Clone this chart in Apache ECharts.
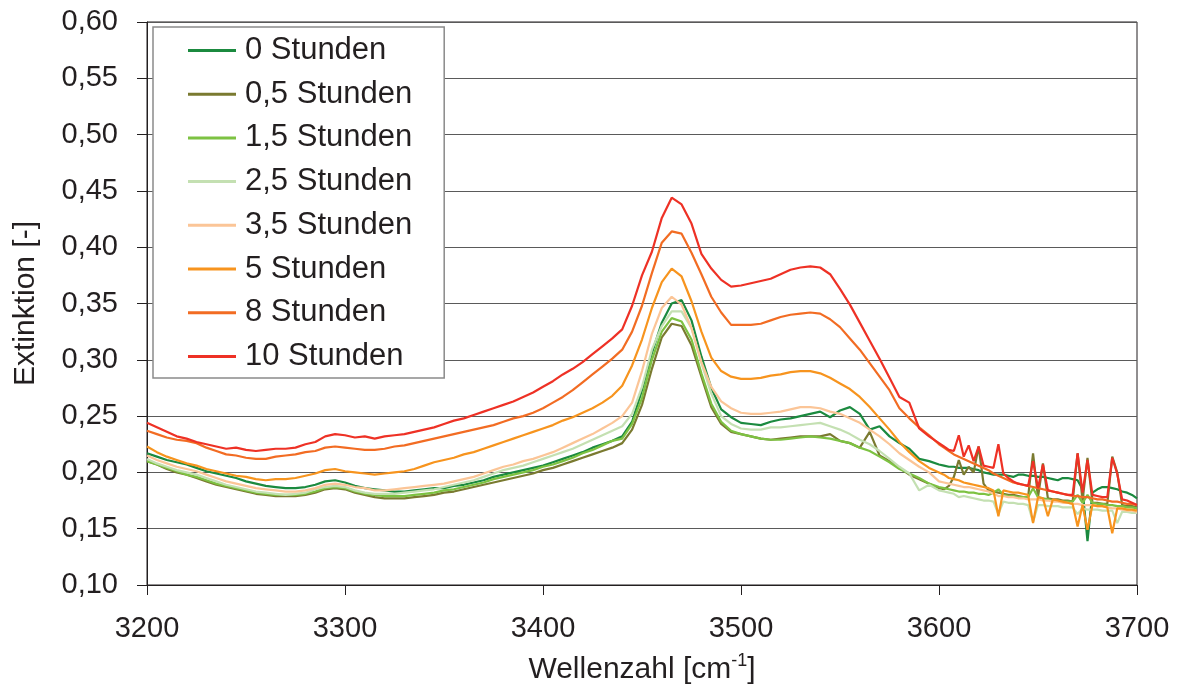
<!DOCTYPE html>
<html>
<head>
<meta charset="utf-8">
<script src="https://cdn.jsdelivr.net/npm/echarts@6/dist/echarts.min.js"></script>
<style>
  html, body { margin: 0; padding: 0; background: #ffffff; }
  #chart { width: 1180px; height: 692px; }
</style>
</head>
<body>
<div id="chart"></div>
<script>
// Wavenumbers [cm^-1]
const wavenumbers = [
  3200,3205,3210,3215,3220,3225,3230,3235,3240,3245,
  3250,3255,3260,3265,3270,3275,3280,3285,3290,3295,
  3300,3305,3310,3315,3320,3325,3330,3335,3340,3345,
  3350,3355,3360,3365,3370,3375,3380,3385,3390,3395,
  3400,3405,3410,3415,3420,3425,3430,3435,3440,3445,
  3450,3455,3460,3465,3470,3475,3480,3485,3490,3495,
  3500,3505,3510,3515,3520,3525,3530,3535,3540,3545,
  3550,3555,3560,3565,3570,3575,3580,3585,3590,3595,
  3600,3602.5,3605,3607.5,3610,3612.5,3615,3617.5,3620,3622.5,
  3625,3627.5,3630,3632.5,3635,3637.5,3640,3642.5,3645,3647.5,
  3650,3652.5,3655,3657.5,3660,3662.5,3665,3667.5,3670,3672.5,
  3675,3677.5,3680,3682.5,3685,3687.5,3690,3692.5,3695,3697.5,3700
];

const seriesNames = ['0 Stunden','0,5 Stunden','1,5 Stunden','2,5 Stunden','3,5 Stunden','5 Stunden','8 Stunden','10 Stunden'];

const h0 = [
  .217,.214,.211,.209,.207,.204,.201,.199,.197,.195,
  .192,.190,.188,.187,.186,.186,.187,.189,.192,.193,
  .191,.188,.186,.185,.184,.183,.183,.184,.185,.186,
  .186,.188,.189,.191,.193,.196,.198,.200,.202,.204,
  .206,.209,.212,.215,.218,.222,.225,.228,.232,.245,
  .273,.306,.333,.350,.353,.335,.303,.275,.256,.249,
  .244,.243,.242,.245,.247,.248,.250,.252,.254,.249,
  .255,.258,.252,.238,.241,.232,.226,.221,.212,.210,
  .207,.206,.205,.205,.204,.204,.204,.203,.202,.200,
  .199,.198,.198,.198,.197,.196,.198,.198,.197,.197,
  .196,.196,.195,.194,.193,.195,.195,.194,.193,.185,
  .139,.182,.185,.187,.187,.186,.185,.183,.182,.180,.177
];
const h05 = [
  .210,.207,.203,.200,.198,.195,.192,.189,.187,.185,
  .183,.181,.180,.179,.179,.179,.180,.182,.185,.186,
  .185,.182,.180,.178,.177,.177,.177,.178,.179,.180,
  .182,.183,.185,.187,.189,.191,.193,.195,.197,.199,
  .202,.204,.207,.210,.213,.216,.219,.222,.226,.238,
  .260,.292,.320,.332,.330,.313,.285,.258,.243,.236,
  .234,.232,.230,.229,.230,.231,.232,.232,.232,.234,
  .228,.226,.222,.236,.215,.210,.204,.198,.194,.190,
  .186,.185,.188,.196,.211,.198,.205,.200,.223,.190,
  .184,.183,.182,.181,.180,.180,.179,.178,.178,.217,
  .178,.208,.177,.176,.176,.175,.175,.174,.217,.175,
  .213,.173,.173,.172,.172,.214,.200,.171,.170,.170,.169
];
const h15 = [
  .210,.207,.204,.201,.198,.196,.193,.190,.188,.186,
  .184,.182,.181,.180,.180,.180,.181,.183,.186,.187,
  .186,.183,.181,.180,.179,.179,.179,.180,.181,.182,
  .184,.185,.187,.189,.191,.194,.196,.198,.200,.202,
  .205,.207,.210,.213,.217,.220,.224,.228,.230,.243,
  .266,.300,.325,.337,.334,.318,.288,.261,.245,.237,
  .234,.232,.230,.229,.229,.230,.231,.232,.231,.230,
  .228,.226,.222,.219,.214,.209,.203,.199,.195,.190,
  .187,.186,.185,.184,.183,.183,.182,.182,.181,.181,
  .180,.182,.185,.180,.179,.179,.178,.178,.178,.186,
  .178,.177,.176,.175,.175,.174,.174,.174,.180,.173,
  .180,.173,.172,.172,.171,.171,.170,.170,.169,.169,.168
];
const h25 = [
  .212,.208,.205,.202,.200,.198,.195,.192,.189,.187,
  .185,.183,.182,.181,.180,.181,.182,.185,.187,.188,
  .187,.184,.182,.181,.181,.181,.182,.183,.184,.185,
  .187,.189,.191,.193,.196,.199,.202,.204,.206,.209,
  .212,.215,.218,.221,.225,.229,.233,.237,.241,.252,
  .276,.309,.330,.343,.343,.328,.297,.270,.250,.243,
  .239,.238,.238,.240,.240,.241,.242,.243,.244,.241,
  .238,.234,.229,.225,.219,.212,.205,.199,.184,.189,
  .184,.183,.182,.181,.178,.179,.178,.177,.176,.175,
  .175,.174,.163,.174,.173,.173,.172,.172,.171,.156,
  .171,.171,.170,.170,.170,.169,.169,.169,.163,.168,
  .167,.167,.167,.166,.166,.166,.155,.165,.165,.164,.164
];
const h35 = [
  .215,.211,.208,.205,.203,.201,.198,.195,.192,.190,
  .188,.186,.185,.184,.183,.183,.184,.186,.189,.190,
  .189,.187,.186,.184,.184,.185,.186,.187,.188,.189,
  .190,.192,.194,.196,.199,.202,.205,.207,.210,.212,
  .215,.218,.222,.226,.230,.234,.239,.244,.250,.262,
  .290,.323,.346,.356,.349,.328,.298,.276,.263,.257,
  .253,.252,.252,.253,.254,.256,.258,.258,.257,.254,
  .252,.248,.244,.238,.232,.225,.217,.211,.205,.200,
  .192,.191,.190,.189,.188,.187,.187,.186,.185,.184,
  .183,.181,.179,.179,.178,.178,.177,.177,.176,.176,
  .176,.175,.175,.174,.174,.173,.173,.172,.172,.171,
  .171,.171,.170,.170,.169,.168,.168,.167,.166,.166,.165
];
const h5 = [
  .223,.218,.214,.211,.208,.206,.203,.201,.199,.197,
  .196,.194,.193,.194,.194,.195,.197,.199,.202,.203,
  .201,.200,.199,.198,.199,.200,.201,.203,.206,.209,
  .211,.213,.216,.218,.221,.224,.227,.230,.233,.236,
  .239,.242,.246,.249,.253,.257,.262,.268,.277,.295,
  .318,.346,.369,.381,.374,.352,.325,.302,.290,.285,
  .283,.283,.284,.286,.287,.289,.290,.290,.288,.284,
  .279,.274,.267,.258,.248,.238,.227,.218,.210,.204,
  .200,.198,.195,.194,.193,.191,.190,.189,.188,.187,
  .186,.184,.161,.184,.183,.182,.182,.181,.180,.155,
  .178,.177,.161,.176,.175,.174,.173,.172,.152,.171,
  .149,.171,.170,.170,.169,.146,.168,.168,.167,.167,.166
];
const h8 = [
  .237,.234,.231,.229,.228,.226,.222,.219,.216,.215,
  .213,.212,.212,.214,.215,.216,.218,.219,.222,.223,
  .222,.221,.220,.220,.221,.223,.224,.226,.228,.230,
  .232,.234,.236,.238,.240,.242,.245,.248,.250,.253,
  .257,.262,.267,.273,.280,.287,.294,.301,.309,.325,
  .348,.377,.404,.414,.412,.395,.376,.356,.342,.331,
  .331,.331,.332,.335,.338,.340,.341,.342,.341,.336,
  .329,.319,.309,.297,.285,.273,.257,.248,.240,.233,
  .225,.222,.219,.216,.214,.212,.210,.208,.206,.204,
  .202,.199,.197,.195,.193,.191,.190,.189,.188,.187,
  .186,.185,.184,.183,.182,.181,.180,.179,.179,.178,
  .178,.177,.176,.176,.175,.174,.174,.173,.172,.172,.171
];
const h10 = [
  .244,.240,.236,.232,.230,.227,.225,.223,.221,.222,
  .220,.219,.220,.221,.221,.222,.225,.227,.232,.234,
  .233,.231,.232,.230,.232,.233,.234,.236,.238,.240,
  .243,.246,.248,.251,.254,.257,.260,.263,.267,.271,
  .276,.281,.287,.292,.298,.305,.312,.319,.327,.348,
  .375,.396,.426,.444,.438,.421,.394,.381,.371,.365,
  .366,.368,.370,.372,.376,.380,.382,.383,.382,.376,
  .363,.349,.333,.317,.301,.284,.267,.262,.239,.232,
  .226,.223,.220,.219,.233,.214,.224,.210,.223,.206,
  .205,.204,.225,.199,.195,.192,.190,.189,.188,.210,
  .186,.207,.184,.183,.182,.181,.180,.180,.217,.182,
  .211,.180,.179,.178,.178,.213,.199,.176,.175,.173,.171
];

const seriesValues = [h0, h05, h15, h25, h35, h5, h8, h10];
const seriesColors = ['#1B8A3F','#7A7A30','#7DC242','#C4E0B2','#FBC597','#F7941E','#F26C23','#EE3125'];

const yTicks = { min: 0.10, max: 0.60, step: 0.05 };
const xTicks = { min: 3200, max: 3700, step: 100 };

const chart = echarts.init(document.getElementById('chart'), null, { renderer: 'canvas' });

const font = "'Liberation Sans', Arial, sans-serif";
const textColor = '#231f20';

const series = seriesNames.map((name, i) => ({
  name: name,
  type: 'line',
  data: wavenumbers.map((w, j) => [w, seriesValues[i][j]]),
  showSymbol: false,
  symbol: 'none',
  lineStyle: { color: seriesColors[i], width: 2.2 },
  itemStyle: { color: seriesColors[i] },
  emphasis: { disabled: true },
  animation: false,
  z: 2 + i
}));

chart.setOption({
  animation: false,
  backgroundColor: '#ffffff',
  grid: {
    left: 147, right: 43, top: 22, bottom: 107,
    containLabel: false,
    outerBoundsMode: 'none',
    show: true, borderColor: '#231f20', borderWidth: 1, backgroundColor: 'transparent'
  },
  legend: {
    orient: 'vertical',
    left: 153, top: 27,
    data: seriesNames,
    icon: 'rect',
    itemWidth: 48, itemHeight: 3,
    itemGap: 12.7,
    padding: [8, 32, 6, 35],
    backgroundColor: '#ffffff',
    borderColor: '#8a8a8a', borderWidth: 1.5,
    textStyle: { fontFamily: font, fontSize: 31, color: textColor, lineHeight: 30, padding: [0, 0, 0, 4] },
    selectedMode: false
  },
  xAxis: {
    type: 'value',
    min: xTicks.min, max: xTicks.max, interval: xTicks.step,
    name: 'Wellenzahl [cm{sup|-1}]',
    nameLocation: 'middle',
    nameGap: 67,
    nameTextStyle: {
      fontFamily: font, fontSize: 30, color: textColor, lineHeight: 36,
      rich: { sup: { fontFamily: font, fontSize: 18, color: textColor, verticalAlign: 'top', lineHeight: 36 } }
    },
    axisLine: { show: true, lineStyle: { color: '#231f20', width: 1 } },
    axisTick: { show: true, inside: false, length: 10, lineStyle: { color: '#231f20' } },
    axisLabel: { fontFamily: font, fontSize: 29, color: textColor, margin: 29, formatter: v => String(v) },
    splitLine: { show: false }
  },
  yAxis: {
    type: 'value',
    min: yTicks.min, max: yTicks.max, interval: yTicks.step,
    name: 'Extinktion [-]',
    nameLocation: 'middle',
    nameGap: 106,
    nameRotate: 90,
    nameTextStyle: { fontFamily: font, fontSize: 30, color: textColor },
    axisLine: { show: true, lineStyle: { color: '#231f20', width: 1 } },
    axisTick: { show: true, inside: false, length: 10, lineStyle: { color: '#231f20' } },
    axisLabel: {
      fontFamily: font, fontSize: 29, color: textColor, margin: 29,
      formatter: v => v.toFixed(2).replace('.', ',')
    },
    splitLine: { show: true, lineStyle: { color: '#5a5a5a', width: 1 } }
  },
  series: series
});
</script>
</body>
</html>
